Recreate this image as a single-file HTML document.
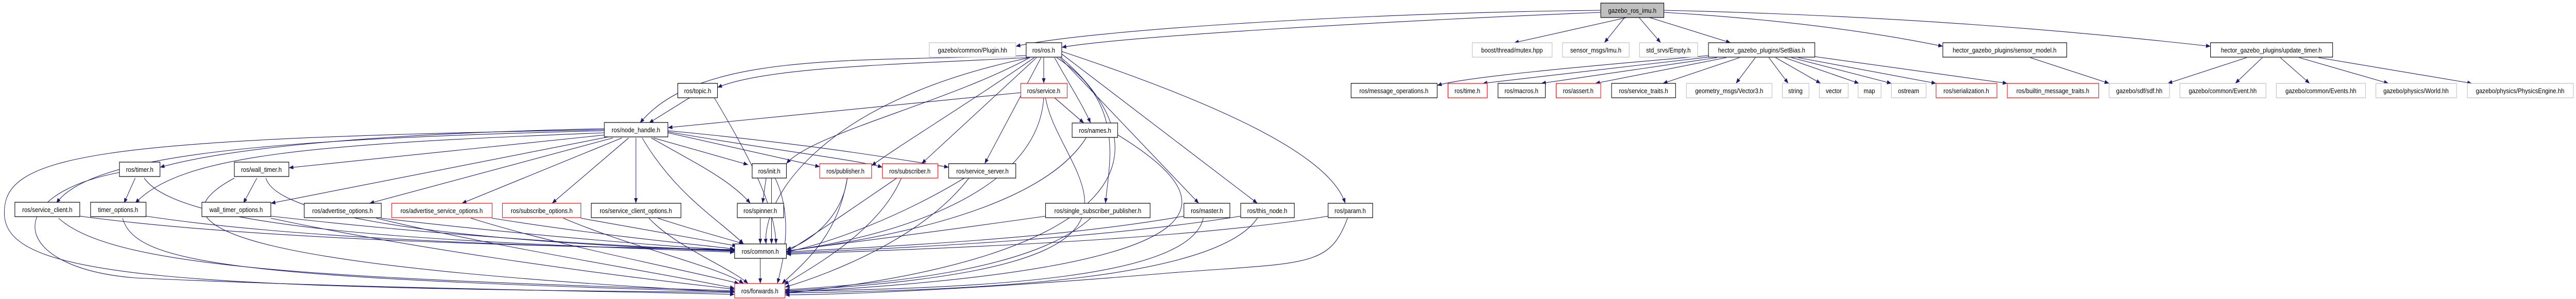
<!DOCTYPE html>
<html><head><meta charset="utf-8"><style>
html,body{margin:0;padding:0;background:#fff;overflow:hidden;width:100%;height:100%;}
svg{display:block;position:fixed;left:0;top:0;width:100vw;height:100vh;}
text{font-family:"Liberation Sans",sans-serif;font-size:13px;fill:#000;text-anchor:middle;}
.b rect{fill:#fff;stroke:#000;stroke-width:1.2;}
.r rect{stroke:#f00;}
.g rect{stroke:#bfbfbf;}
</style></head><body>
<svg viewBox="0 0 5716 581" preserveAspectRatio="none">
<defs><marker id="a" markerUnits="userSpaceOnUse" markerWidth="11" markerHeight="9" refX="10" refY="4" orient="auto"><path d="M0,0 L10,4 L0,8 z" fill="#191970"/></marker></defs>
<g fill="none" stroke="#191970" stroke-width="1.1" marker-end="url(#a)">
<path d="M3553,20 C3000,25 2400,60 2254,90"/>
<path d="M3553,24 C3100,40 2500,70 2356,92"/>
<path d="M3610,34 L3360,83"/>
<path d="M3605,34 L3560,83"/>
<path d="M3637,34 L3685,83"/>
<path d="M3660,34 L3840,83"/>
<path d="M3692,24 C4000,40 4200,70 4311,90"/>
<path d="M3692,20 C4200,30 4600,60 4905,90"/>
<path d="M3791,108 C3500,130 3250,150 3189,166"/>
<path d="M3800,110 L3290,162"/>
<path d="M3810,112 L3420,162"/>
<path d="M3830,112 L3540,162"/>
<path d="M3860,112 L3690,162"/>
<path d="M3895,112 L3852,162"/>
<path d="M3925,112 L3968,162"/>
<path d="M3940,112 L4040,162"/>
<path d="M3960,112 L4125,162"/>
<path d="M3975,112 L4197,162"/>
<path d="M3990,112 L4296,162"/>
<path d="M4027,110 L4454,162"/>
<path d="M4505,112 L4680,162"/>
<path d="M4985,112 L4810,162"/>
<path d="M5020,112 L4960,162"/>
<path d="M5060,112 L5125,162"/>
<path d="M5102,112 L5300,162"/>
<path d="M5145,112 L5485,162"/>
<path d="M2316,112 L2316,162"/>
<path d="M2340,112 C2370,160 2400,200 2420,239"/>
<path d="M2340,190 L2405,239"/>
<path d="M2280,108 C1900,120 1550,100 1420,239"/>
<path d="M2280,112 C2000,125 1700,130 1592,170"/>
<path d="M2285,112 C2100,200 1800,260 1745,318"/>
<path d="M2295,112 C2150,200 2000,280 1934,322"/>
<path d="M2300,112 L2045,318"/>
<path d="M2310,112 L2185,318"/>
<path d="M2345,112 C2500,200 2460,320 2453,395"/>
<path d="M2352,112 L2660,395"/>
<path d="M2356,105 L2790,395"/>
<path d="M2356,100 C2700,200 2950,300 2985,395"/>
<path d="M2285,112 C1800,200 1690,400 1700,474"/>
<path d="M2355,112 C2600,300 2500,500 1742,570"/>
<path d="M2265,180 L1482,248"/>
<path d="M2316,190 C2300,400 1900,470 1745,488"/>
<path d="M2320,190 C2350,350 2700,520 1742,565"/>
<path d="M1530,190 L1440,239"/>
<path d="M1585,190 C1660,300 1720,400 1722,474"/>
<path d="M2410,268 C2300,420 1900,470 1745,488"/>
<path d="M2480,262 C2700,380 2800,520 1742,568"/>
<path d="M1341,250 C800,260 500,290 355,325"/>
<path d="M1345,262 L641,326"/>
<path d="M1341,254 C600,270 200,300 125,395"/>
<path d="M1341,258 C700,280 400,300 300,395"/>
<path d="M1350,266 L601,395"/>
<path d="M1360,268 L820,395"/>
<path d="M1380,268 L1025,395"/>
<path d="M1395,268 L1225,395"/>
<path d="M1411,268 L1411,395"/>
<path d="M1450,268 L1660,320"/>
<path d="M1445,268 C1550,320 1620,350 1665,395"/>
<path d="M1425,268 C1500,380 1600,430 1650,474"/>
<path d="M1341,252 C200,270 0,300 10,420 C20,540 400,560 1630,568"/>
<path d="M1482,258 L1819,324"/>
<path d="M1482,256 C1700,290 1900,310 1958,325"/>
<path d="M1482,254 C1800,280 2000,310 2105,325"/>
<path d="M300,346 L275,395"/>
<path d="M320,346 C400,450 1000,470 1630,490"/>
<path d="M265,335 C0,380 20,520 300,540 C800,560 1300,565 1630,572"/>
<path d="M570,346 L540,395"/>
<path d="M590,346 C620,440 1200,475 1630,488"/>
<path d="M520,346 C300,450 600,520 1630,568"/>
<path d="M1700,346 L1692,395"/>
<path d="M1712,346 L1712,474"/>
<path d="M1720,346 C1760,420 1740,500 1725,551"/>
<path d="M1880,346 C1870,420 1800,470 1745,485"/>
<path d="M1880,346 C1860,450 1800,500 1735,551"/>
<path d="M1990,346 C1900,400 1800,460 1745,490"/>
<path d="M2000,346 C1950,450 1800,520 1740,553"/>
<path d="M2140,346 C2000,420 1850,470 1745,490"/>
<path d="M2150,346 C2050,460 1850,530 1742,558"/>
<path d="M177,420 C600,470 1300,480 1630,485"/>
<path d="M130,424 C250,520 700,540 1630,565"/>
<path d="M324,420 C700,470 1300,480 1630,486"/>
<path d="M272,424 C300,510 500,540 1630,567"/>
<path d="M601,420 C1000,460 1400,480 1630,487"/>
<path d="M601,424 C900,480 1300,530 1630,562"/>
<path d="M846,424 C1200,460 1500,480 1630,486"/>
<path d="M835,424 C1100,480 1400,520 1630,560"/>
<path d="M1092,424 C1350,460 1550,475 1630,484"/>
<path d="M1045,424 C1250,480 1500,520 1640,551"/>
<path d="M1289,424 C1450,450 1580,470 1635,478"/>
<path d="M1250,424 C1400,480 1600,520 1650,551"/>
<path d="M1460,424 C1550,450 1620,465 1650,474"/>
<path d="M1440,424 C1500,480 1620,520 1660,551"/>
<path d="M1687,424 L1687,474"/>
<path d="M2320,420 C2000,460 1800,480 1745,488"/>
<path d="M2420,424 C2300,520 2000,550 1742,563"/>
<path d="M2627,420 C2300,470 1900,480 1745,490"/>
<path d="M2670,424 C2640,540 2200,560 1742,566"/>
<path d="M2753,420 C2400,470 1900,485 1745,492"/>
<path d="M2790,424 C2700,540 2200,565 1742,569"/>
<path d="M2947,420 C2600,470 2000,485 1745,494"/>
<path d="M2990,424 C2950,520 2900,510 2600,530 C2200,560 1900,572 1742,573"/>
<path d="M1687,502 L1687,551"/>
</g>

<g class="b"><rect x="3552" y="6" width="140" height="28" style="fill:#bfbfbf"/><text x="3622" y="25">gazebo_ros_imu.h</text></g>

<g class="b g"><rect x="2062" y="83" width="192" height="28"/><text x="2158" y="102">gazebo/common/Plugin.hh</text></g>
<g class="b"><rect x="2277" y="83" width="79" height="28"/><text x="2316" y="102">ros/ros.h</text></g>
<g class="b g"><rect x="3267" y="83" width="177" height="28"/><text x="3355" y="102">boost/thread/mutex.hpp</text></g>
<g class="b g"><rect x="3467" y="83" width="148" height="28"/><text x="3541" y="102">sensor_msgs/Imu.h</text></g>
<g class="b g"><rect x="3638" y="83" width="129" height="28"/><text x="3702" y="102">std_srvs/Empty.h</text></g>
<g class="b"><rect x="3791" y="83" width="236" height="28"/><text x="3909" y="102">hector_gazebo_plugins/SetBias.h</text></g>
<g class="b"><rect x="4311" y="83" width="275" height="28"/><text x="4448" y="102">hector_gazebo_plugins/sensor_model.h</text></g>
<g class="b"><rect x="4905" y="83" width="271" height="28"/><text x="5040" y="102">hector_gazebo_plugins/update_timer.h</text></g>

<g class="b"><rect x="1504" y="162" width="88" height="28"/><text x="1548" y="181">ros/topic.h</text></g>
<g class="b r"><rect x="2265" y="162" width="103" height="28"/><text x="2316" y="181">ros/service.h</text></g>
<g class="b"><rect x="2998" y="162" width="191" height="28"/><text x="3093" y="181">ros/message_operations.h</text></g>
<g class="b r"><rect x="3213" y="162" width="87" height="28"/><text x="3256" y="181">ros/time.h</text></g>
<g class="b"><rect x="3324" y="162" width="105" height="28"/><text x="3376" y="181">ros/macros.h</text></g>
<g class="b r"><rect x="3453" y="162" width="99" height="28"/><text x="3502" y="181">ros/assert.h</text></g>
<g class="b"><rect x="3576" y="162" width="142" height="28"/><text x="3647" y="181">ros/service_traits.h</text></g>
<g class="b g"><rect x="3742" y="162" width="190" height="28"/><text x="3837" y="181">geometry_msgs/Vector3.h</text></g>
<g class="b g"><rect x="3955" y="162" width="59" height="28"/><text x="3984" y="181">string</text></g>
<g class="b g"><rect x="4037" y="162" width="64" height="28"/><text x="4069" y="181">vector</text></g>
<g class="b g"><rect x="4123" y="162" width="51" height="28"/><text x="4148" y="181">map</text></g>
<g class="b g"><rect x="4197" y="162" width="77" height="28"/><text x="4235" y="181">ostream</text></g>
<g class="b r"><rect x="4296" y="162" width="135" height="28"/><text x="4363" y="181">ros/serialization.h</text></g>
<g class="b r"><rect x="4454" y="162" width="203" height="28"/><text x="4555" y="181">ros/builtin_message_traits.h</text></g>
<g class="b g"><rect x="4680" y="162" width="134" height="28"/><text x="4747" y="181">gazebo/sdf/sdf.hh</text></g>
<g class="b g"><rect x="4837" y="162" width="191" height="28"/><text x="4932" y="181">gazebo/common/Event.hh</text></g>
<g class="b g"><rect x="5051" y="162" width="198" height="28"/><text x="5150" y="181">gazebo/common/Events.hh</text></g>
<g class="b g"><rect x="5272" y="162" width="179" height="28"/><text x="5361" y="181">gazebo/physics/World.hh</text></g>
<g class="b g"><rect x="5475" y="162" width="235" height="28"/><text x="5592" y="181">gazebo/physics/PhysicsEngine.hh</text></g>

<g class="b"><rect x="1341" y="238" width="141" height="28"/><text x="1411" y="257">ros/node_handle.h</text></g>
<g class="b"><rect x="2379" y="239" width="101" height="28"/><text x="2430" y="258">ros/names.h</text></g>

<g class="b"><rect x="265" y="315" width="90" height="28"/><text x="310" y="334">ros/timer.h</text></g>
<g class="b"><rect x="520" y="315" width="121" height="28"/><text x="580" y="334">ros/wall_timer.h</text></g>
<g class="b"><rect x="1669" y="318" width="76" height="28"/><text x="1707" y="337">ros/init.h</text></g>
<g class="b r"><rect x="1819" y="318" width="115" height="28"/><text x="1876" y="337">ros/publisher.h</text></g>
<g class="b r"><rect x="1958" y="318" width="123" height="28"/><text x="2019" y="337">ros/subscriber.h</text></g>
<g class="b"><rect x="2105" y="318" width="149" height="28"/><text x="2180" y="337">ros/service_server.h</text></g>

<g class="b"><rect x="33" y="393" width="144" height="28"/><text x="105" y="412">ros/service_client.h</text></g>
<g class="b"><rect x="201" y="393" width="123" height="28"/><text x="262" y="412">timer_options.h</text></g>
<g class="b"><rect x="448" y="393" width="153" height="28"/><text x="524" y="412">wall_timer_options.h</text></g>
<g class="b"><rect x="675" y="395" width="171" height="28"/><text x="760" y="414">ros/advertise_options.h</text></g>
<g class="b r"><rect x="869" y="395" width="223" height="28"/><text x="980" y="414">ros/advertise_service_options.h</text></g>
<g class="b r"><rect x="1115" y="395" width="174" height="28"/><text x="1202" y="414">ros/subscribe_options.h</text></g>
<g class="b"><rect x="1312" y="395" width="199" height="28"/><text x="1411" y="414">ros/service_client_options.h</text></g>
<g class="b"><rect x="1636" y="395" width="103" height="28"/><text x="1687" y="414">ros/spinner.h</text></g>
<g class="b"><rect x="2320" y="395" width="232" height="28"/><text x="2436" y="414">ros/single_subscriber_publisher.h</text></g>
<g class="b"><rect x="2627" y="395" width="102" height="28"/><text x="2678" y="414">ros/master.h</text></g>
<g class="b"><rect x="2753" y="395" width="119" height="28"/><text x="2812" y="414">ros/this_node.h</text></g>
<g class="b"><rect x="2947" y="395" width="99" height="28"/><text x="2996" y="414">ros/param.h</text></g>

<g class="b"><rect x="1630" y="474" width="115" height="28"/><text x="1687" y="493">ros/common.h</text></g>
<g class="b r"><rect x="1630" y="551" width="112" height="28"/><text x="1686" y="570">ros/forwards.h</text></g>
</svg>
</body></html>
